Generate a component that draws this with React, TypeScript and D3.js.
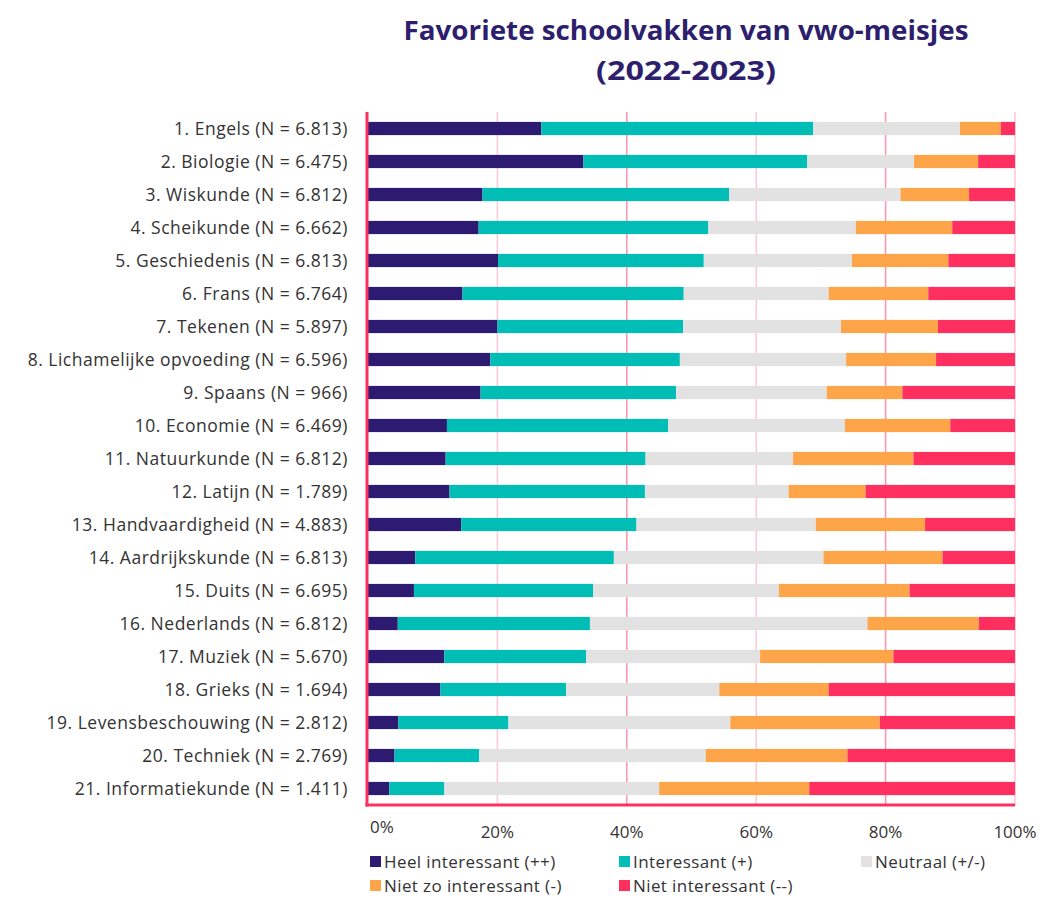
import React from 'react';
import * as d3 from 'd3';

const subjects = [
  '1. Engels (N = 6.813)',
  '2. Biologie (N = 6.475)',
  '3. Wiskunde (N = 6.812)',
  '4. Scheikunde (N = 6.662)',
  '5. Geschiedenis (N = 6.813)',
  '6. Frans (N = 6.764)',
  '7. Tekenen (N = 5.897)',
  '8. Lichamelijke opvoeding (N = 6.596)',
  '9. Spaans (N = 966)',
  '10. Economie (N = 6.469)',
  '11. Natuurkunde (N = 6.812)',
  '12. Latijn (N = 1.789)',
  '13. Handvaardigheid (N = 4.883)',
  '14. Aardrijkskunde (N = 6.813)',
  '15. Duits (N = 6.695)',
  '16. Nederlands (N = 6.812)',
  '17. Muziek (N = 5.670)',
  '18. Grieks (N = 1.694)',
  '19. Levensbeschouwing (N = 2.812)',
  '20. Techniek (N = 2.769)',
  '21. Informatiekunde (N = 1.411)',
];

// percentages per subject
const heelInteressant = [26.8, 33.3, 17.7, 17.1, 20.1, 14.6, 20.0, 18.9, 17.4, 12.2, 12.0, 12.6, 14.4, 7.3, 7.1, 4.6, 11.8, 11.2, 4.7, 4.1, 3.3];
const interessant = [42.0, 34.6, 38.1, 35.5, 31.8, 34.2, 28.7, 29.3, 30.2, 34.2, 30.9, 30.2, 27.1, 30.7, 27.7, 29.7, 21.9, 19.4, 17.0, 13.1, 8.5];
const neutraal = [22.7, 16.5, 26.5, 22.8, 22.9, 22.4, 24.4, 25.7, 23.3, 27.3, 22.8, 22.2, 27.7, 32.4, 28.7, 42.9, 26.9, 23.7, 34.3, 35.0, 33.2];
const nietZoInteressant = [6.3, 9.9, 10.6, 14.9, 14.9, 15.4, 15.0, 13.9, 11.7, 16.3, 18.6, 11.9, 16.9, 18.4, 20.2, 17.2, 20.6, 16.9, 23.1, 21.9, 23.2];
const nietInteressant = [2.2, 5.7, 7.1, 9.7, 10.3, 13.4, 11.9, 12.2, 17.4, 10.0, 15.7, 23.1, 13.9, 11.2, 16.3, 5.6, 18.8, 28.8, 20.9, 25.9, 31.8];

const seriesNames = [
  'Heel interessant (++)',
  'Interessant (+)',
  'Neutraal (+/-)',
  'Niet zo interessant (-)',
  'Niet interessant (--)',
];
const colors = ['#2d1b72', '#00bdb5', '#e2e2e2', '#fea54a', '#ff305f'];
const xTicks = [0, 20, 40, 60, 80, 100];

const W = 1042;
const H = 898;
const margin = { top: 112, right: 27, bottom: 93, left: 368 };
const font = '"Open Sans", Lato, sans-serif';

export default function App() {
  const seriesValues = [heelInteressant, interessant, neutraal, nietZoInteressant, nietInteressant];
  const rows = subjects.map((s, i) => {
    const r: Record<string, any> = { subject: s };
    seriesNames.forEach((k, j) => (r[k] = seriesValues[j][i]));
    return r;
  });
  const stacked = d3.stack().keys(seriesNames)(rows as any);

  const x = d3.scaleLinear().domain([0, 100]).range([margin.left, W - margin.right]);
  const y = d3.scaleBand().domain(subjects).range([margin.top, H - margin.bottom]).paddingInner(0.6).paddingOuter(0.3);
  const bottom = H - margin.bottom;

  const legendPos = [
    [370, 862], [619, 862], [861, 862],
    [370, 886], [619, 886],
  ];

  return (
    <svg width={W} height={H} style={{ position: 'absolute', left: 0, top: 0, background: '#fff' }}>
      <text x={686} y={40} textAnchor="middle" fontFamily={font} fontWeight={700} fontSize={26} fill="#2d1f6e"
        textLength={565} lengthAdjust="spacingAndGlyphs">
        Favoriete schoolvakken van vwo-meisjes
      </text>
      <text x={686} y={80} textAnchor="middle" fontFamily={font} fontWeight={700} fontSize={26} fill="#2d1f6e"
        textLength={180} lengthAdjust="spacingAndGlyphs">
        (2022-2023)
      </text>

      {xTicks.filter(t => t > 0).map(t => (
        <line key={t} x1={x(t)} x2={x(t)} y1={margin.top} y2={bottom}
          stroke={t === 40 || t === 80 ? '#ff92a9' : '#ffc6d3'} strokeWidth={1.5} />
      ))}

      {stacked.map((layer, j) => (
        <g key={layer.key} fill={colors[j]}>
          {layer.map((d, i) => (
            <rect key={i} x={x(d[0])} y={y(subjects[i])} width={x(d[1]) - x(d[0])} height={y.bandwidth()} />
          ))}
        </g>
      ))}

      <line x1={margin.left - 1} x2={margin.left - 1} y1={margin.top} y2={bottom + 1.5} stroke="#ff305f" strokeWidth={3} />
      <line x1={margin.left - 2.5} x2={x(100)} y1={bottom} y2={bottom} stroke="#ff305f" strokeWidth={3} />

      {subjects.map(s => (
        <text key={s} x={348} y={y(s)! + y.bandwidth() / 2} dy="0.35em" textAnchor="end"
          fontFamily={font} fontSize={17.5} letterSpacing={0.5} fill="#333">
          {s}
        </text>
      ))}

      {xTicks.map(t => (
        <text key={t} x={t === 0 ? x(t) + 2 : x(t)} y={t === 0 ? 833 : 838} textAnchor={t === 0 ? 'start' : 'middle'}
          fontFamily={font} fontSize={17} fill="#333">
          {`${t}%`}
        </text>
      ))}

      {seriesNames.map((n, j) => (
        <g key={n} transform={`translate(${legendPos[j][0]},${legendPos[j][1]})`}>
          <rect x={0} y={-6} width={11} height={11} fill={colors[j]} />
          <text x={14} y={0} dy="0.35em" fontFamily={font} fontSize={17} letterSpacing={0.4} fill="#333">{n}</text>
        </g>
      ))}
    </svg>
  );
}
